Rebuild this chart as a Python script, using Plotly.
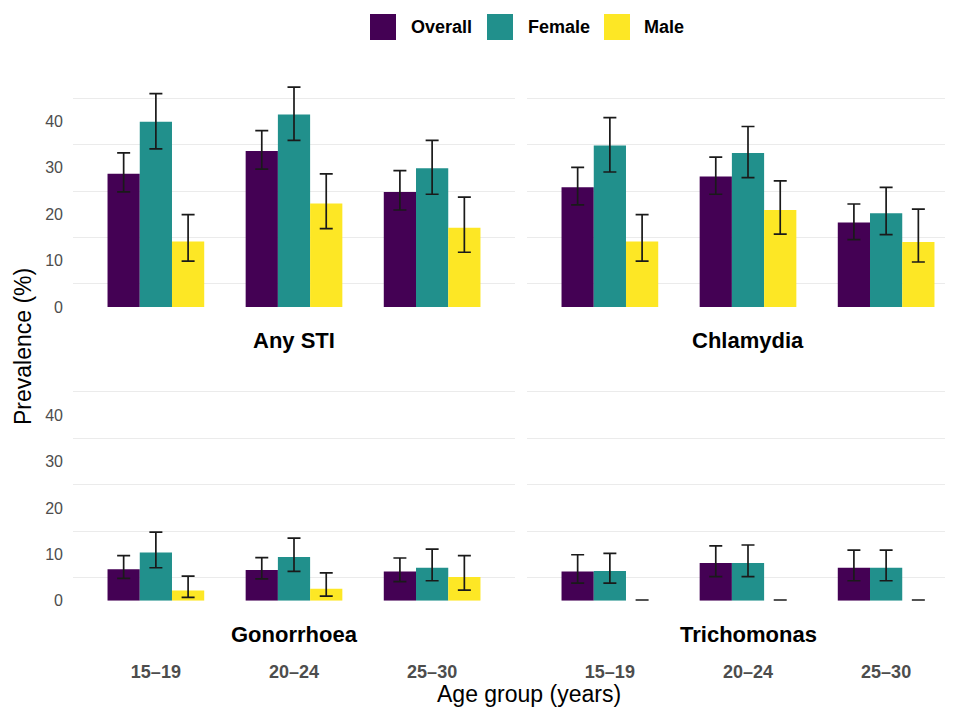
import plotly.graph_objects as go

# The page places the figure with an 8px body margin, so the figure is
# sized to fit the 953x709 window and positions are given in window pixels.
OFF = 8
W, H = 953 - OFF, 709 - OFF

# ---------------- data (prevalence %, with 95% CI) ----------------
age_groups = ["15–19", "20–24", "25–30"]
infections = ["Any STI", "Chlamydia", "Gonorrhoea", "Trichomonas"]
groups = ["Overall", "Female", "Male"]
colors = ["#440154", "#21908C", "#FDE725"]

any_sti_overall = [28.7, 33.6, 24.8]
any_sti_overall_lo = [24.8, 29.7, 20.9]
any_sti_overall_hi = [33.2, 38.0, 29.4]
any_sti_female = [39.9, 41.5, 29.9]
any_sti_female_lo = [34.1, 35.9, 24.3]
any_sti_female_hi = [46.0, 47.4, 35.9]
any_sti_male = [14.1, 22.3, 17.1]
any_sti_male_lo = [9.9, 16.9, 11.8]
any_sti_male_hi = [19.9, 28.7, 23.7]

chlamydia_overall = [25.8, 28.1, 18.2]
chlamydia_overall_lo = [22.0, 24.3, 14.5]
chlamydia_overall_hi = [30.1, 32.3, 22.2]
chlamydia_female = [34.8, 33.2, 20.2]
chlamydia_female_lo = [29.1, 27.9, 15.6]
chlamydia_female_hi = [40.8, 38.9, 25.8]
chlamydia_male = [14.1, 20.9, 14.0]
chlamydia_male_lo = [9.9, 15.7, 9.7]
chlamydia_male_hi = [19.9, 27.2, 21.1]

gonorrhoea_overall = [6.8, 6.6, 6.3]
gonorrhoea_overall_lo = [4.8, 4.7, 4.1]
gonorrhoea_overall_hi = [9.7, 9.3, 9.2]
gonorrhoea_female = [10.4, 9.4, 7.1]
gonorrhoea_female_lo = [7.1, 6.3, 4.3]
gonorrhoea_female_hi = [14.8, 13.5, 11.1]
gonorrhoea_male = [2.2, 2.6, 5.1]
gonorrhoea_male_lo = [0.7, 1.0, 2.3]
gonorrhoea_male_hi = [5.3, 6.0, 9.7]

trichomonas_overall = [6.3, 8.1, 7.1]
trichomonas_overall_lo = [3.8, 5.2, 4.3]
trichomonas_overall_hi = [9.9, 11.8, 10.9]
trichomonas_female = [6.4, 8.1, 7.1]
trichomonas_female_lo = [3.8, 5.2, 4.3]
trichomonas_female_hi = [10.2, 12.0, 10.9]
trichomonas_male = [0.0, 0.0, 0.0]
trichomonas_male_lo = [0.0, 0.0, 0.0]
trichomonas_male_hi = [0.0, 0.0, 0.0]

panels = [
    [(any_sti_overall, any_sti_overall_lo, any_sti_overall_hi),
     (any_sti_female, any_sti_female_lo, any_sti_female_hi),
     (any_sti_male, any_sti_male_lo, any_sti_male_hi)],
    [(chlamydia_overall, chlamydia_overall_lo, chlamydia_overall_hi),
     (chlamydia_female, chlamydia_female_lo, chlamydia_female_hi),
     (chlamydia_male, chlamydia_male_lo, chlamydia_male_hi)],
    [(gonorrhoea_overall, gonorrhoea_overall_lo, gonorrhoea_overall_hi),
     (gonorrhoea_female, gonorrhoea_female_lo, gonorrhoea_female_hi),
     (gonorrhoea_male, gonorrhoea_male_lo, gonorrhoea_male_hi)],
    [(trichomonas_overall, trichomonas_overall_lo, trichomonas_overall_hi),
     (trichomonas_female, trichomonas_female_lo, trichomonas_female_hi),
     (trichomonas_male, trichomonas_male_lo, trichomonas_male_hi)],
]

# ---------------- helpers (window pixels -> paper fractions) ----------------
def px_x(p):
    return (p - OFF) / W


def px_y(p):
    return (H - (p - OFF)) / H


FONT = "Liberation Sans, Arial, Helvetica, sans-serif"

fig = go.Figure()

axis_ids = ["", "2", "3", "4"]
for pi, panel in enumerate(panels):
    ax = axis_ids[pi]
    for gi, (est, lo, hi) in enumerate(panel):
        # zero-width intervals collapse to a single, heavier dash
        zero_ci = all(h == l for h, l in zip(hi, lo))
        fig.add_trace(go.Bar(
            x=age_groups,
            y=est,
            name=groups[gi],
            marker=dict(color=colors[gi], line=dict(width=0)),
            error_y=dict(
                type="data",
                symmetric=False,
                array=[h - e for h, e in zip(hi, est)],
                arrayminus=[e - l for e, l in zip(est, lo)],
                color="#1a1a1a",
                thickness=3.0 if zero_ci else 1.7,
                width=6.5,
            ),
            xaxis="x" + ax,
            yaxis="y" + ax,
            showlegend=False,
            offsetgroup=str(gi),
        ))

# panel geometry (window pixels)
PXU = 4.64  # pixels per percentage point
left_dom = [px_x(73), px_x(515)]
right_dom = [px_x(527), 1.0]
top_dom = [px_y(307), px_y(307 - 50 * PXU)]
bot_dom = [px_y(600.7), px_y(600.7 - 50 * PXU)]

unit = (515 - 73) / 3.2
right_range = [-0.6, -0.6 + (953 - 527) / unit]

grid_minor = dict(tickvals=[5, 15, 25, 35, 45], showgrid=True,
                  gridcolor="#EBEBEB", gridwidth=1.1, ticks="")


def yax(domain, anchor, labels):
    return dict(
        domain=domain, anchor=anchor, range=[0, 50], fixedrange=True,
        tickvals=[0, 10, 20, 30, 40], showgrid=False, zeroline=False,
        showline=False, ticks="", showticklabels=labels,
        tickfont=dict(family=FONT, size=16, color="#4D4D4D"),
        ticklabelstandoff=9, minor=grid_minor, automargin=False,
    )


def xax(domain, anchor, rng, labels):
    return dict(
        domain=domain, anchor=anchor, range=rng, type="category",
        categoryorder="array", categoryarray=age_groups,
        showgrid=False, zeroline=False, showline=False, ticks="",
        showticklabels=labels, fixedrange=True,
        tickfont=dict(family=FONT, size=18, color="#4D4D4D", weight="bold"),
        ticklabelstandoff=58, automargin=False,
    )


fig.update_layout(
    width=W, height=H,
    margin=dict(l=0, r=0, t=0, b=0),
    template="none",
    paper_bgcolor="white", plot_bgcolor="white",
    barmode="group", bargap=0.3, bargroupgap=0.0,
    showlegend=False,
    font=dict(family=FONT, color="black"),
    xaxis=xax(left_dom, "y", [-0.6, 2.6], False),
    yaxis=yax(top_dom, "x", True),
    xaxis2=xax(right_dom, "y2", right_range, False),
    yaxis2=yax(top_dom, "x2", False),
    xaxis3=xax(left_dom, "y3", [-0.6, 2.6], True),
    yaxis3=yax(bot_dom, "x3", True),
    xaxis4=xax(right_dom, "y4", right_range, True),
    yaxis4=yax(bot_dom, "x4", False),
)

annotations = []
# facet strip labels (below panels)
strip_pos = [(294, 340), (748, 340), (294, 634), (748, 634)]
for name, (sx, sy) in zip(infections, strip_pos):
    annotations.append(dict(
        text=name, x=px_x(sx), y=px_y(sy), xref="paper", yref="paper",
        xanchor="center", yanchor="middle", showarrow=False,
        font=dict(family=FONT, size=22, color="black", weight="bold"),
    ))

# axis titles
annotations.append(dict(
    text="Age group (years)", x=px_x(529), y=px_y(694), xref="paper", yref="paper",
    xanchor="center", yanchor="middle", showarrow=False,
    font=dict(family=FONT, size=23, color="black"),
))
annotations.append(dict(
    text="Prevalence (%)", x=px_x(23), y=px_y(347), xref="paper", yref="paper",
    xanchor="center", yanchor="middle", showarrow=False, textangle=-90,
    font=dict(family=FONT, size=23, color="black"),
))

# manual legend (large square keys)
shapes = []
legend_items = [(370, 409), (487, 526), (604, 642)]
for (sx, tx), name, col in zip(legend_items, groups, colors):
    shapes.append(dict(
        type="rect", xref="paper", yref="paper",
        x0=px_x(sx), x1=px_x(sx + 26), y0=px_y(40), y1=px_y(14),
        fillcolor=col, line=dict(width=0),
    ))
    annotations.append(dict(
        text=name, x=px_x(tx), y=px_y(27), xref="paper", yref="paper",
        xanchor="left", yanchor="middle", showarrow=False,
        font=dict(family=FONT, size=18, color="black", weight="bold"),
    ))

fig.update_layout(annotations=annotations, shapes=shapes)

fig.write_html("out.html")
